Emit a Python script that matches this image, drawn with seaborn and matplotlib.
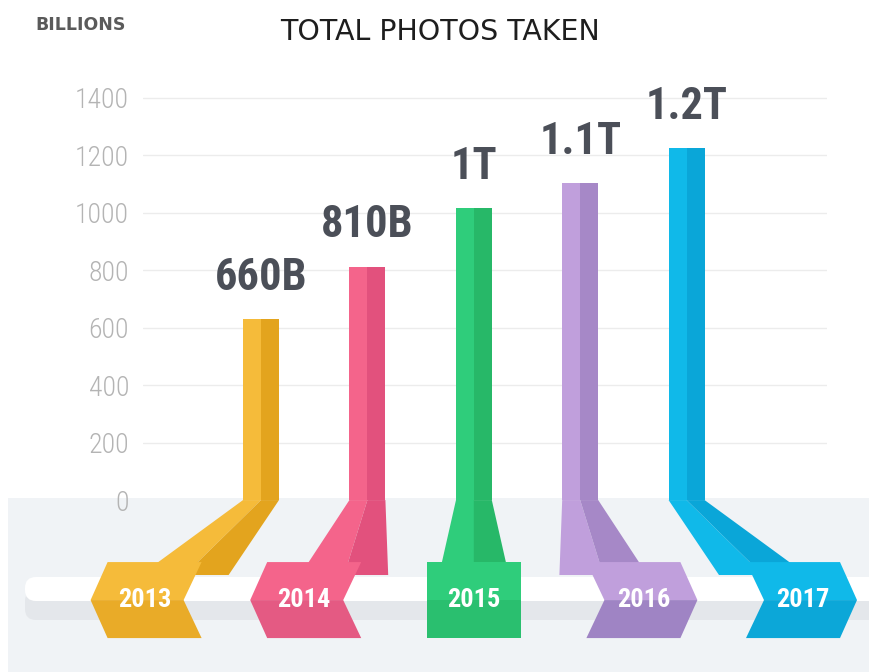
import pandas as pd
import seaborn as sns
import matplotlib.pyplot as plt
from matplotlib import font_manager
from matplotlib.patches import Polygon, Rectangle, FancyBboxPatch

# total photos taken per year, billions
years = ['2013', '2014', '2015', '2016', '2017']
photos = [630, 812, 1016, 1103, 1224]
value_labels = ['660B', '810B', '1T', '1.1T', '1.2T']
y_ticks = [0, 200, 400, 600, 800, 1000, 1200, 1400]

light = ['#f5bb3a', '#f4648b', '#2fcd7b', '#c09fdc', '#10b9e9']
dark = ['#e3a41e', '#e2517d', '#27b868', '#a688c7', '#0aa6d8']
box_low = ['#e9ab28', '#e45a83', '#2abf6f', '#9f84c4', '#0ca7d8']
arrow_dir = [-1, -1, 0, 1, 1]   # year tags: left arrow, box, right arrow

sns.set_theme(style='white')

# pick a narrow face if one is installed
installed = {f.name for f in font_manager.fontManager.ttflist}
narrow = 'DejaVu Sans'
for cand in ['Roboto Condensed', 'Liberation Sans Narrow', 'DejaVu Sans Condensed', 'Roboto']:
    if cand in installed:
        narrow = cand
        break
plt.rcParams['font.family'] = [narrow, 'DejaVu Sans']

fig = plt.figure(figsize=(8.69, 6.72), dpi=100)

# background layer in pixel units: grey floor and the white "road"
bg = fig.add_axes([0, 0, 1, 1], zorder=0)
bg.set_xlim(0, 869)
bg.set_ylim(672, 0)
bg.axis('off')
bg.add_patch(Rectangle((8, 498), 861, 174, color='#f0f3f6', lw=0))
bg.add_patch(FancyBboxPatch((25, 590), 900, 30, boxstyle='round,pad=0,rounding_size=11',
                            color='#e4e7eb', lw=0))
bg.add_patch(FancyBboxPatch((25, 577), 900, 24, boxstyle='round,pad=0,rounding_size=11',
                            color='white', lw=0))

# main chart
X_PX = 106.4     # pixels per category step
Y_PX = 0.2875    # pixels per billion
ax = fig.add_axes([143 / 869, 0, 684 / 869, 0.8976], zorder=1)
ax.patch.set_alpha(0)

df = pd.DataFrame({'year': years, 'photos': photos})
sns.barplot(data=df, x='year', y='photos', hue='year', palette=light, saturation=1,
            width=36 / X_PX, legend=False, ax=ax, zorder=3, linewidth=0)

bars = sorted(ax.patches, key=lambda p: p.get_x())
top, mid_y, bot = -62 / Y_PX, -100 / Y_PX, -138 / Y_PX
hw, tip, notch = 47 / X_PX, 17 / X_PX, 18 / X_PX
n = len(bars)
for i, p in enumerate(bars):
    L = p.get_x()
    w = p.get_width()
    M = L + w / 2
    R = L + w
    h = p.get_height()
    # darker right half of the bar
    ax.add_patch(Rectangle((M, 0), w / 2, h, color=dark[i], lw=0, zorder=4))
    ax.text(M, h + 102, value_labels[i], ha='center', va='baseline', fontsize=32,
            fontweight='bold', color='#4b4f58')

    # year tag position, fanned out under the bars
    c = (n - 1) / 2 + (i - (n - 1) / 2) * 1.5
    d = arrow_dir[i]
    B = c - d * 30 / X_PX
    rw = (35 if d == 0 else 44) / X_PX
    ye = top - 45
    ax.add_patch(Polygon([(L, 0), (M, 0), (B, ye), (B - rw, ye)], closed=True,
                         color=light[i], lw=0, zorder=2, clip_on=False))
    ax.add_patch(Polygon([(M, 0), (R, 0), (B + rw, ye), (B, ye)], closed=True,
                         color=dark[i], lw=0, zorder=2, clip_on=False))

    bl, br = c - hw, c + hw
    if d < 0:
        lm, rm = bl - tip, br - notch
    elif d > 0:
        lm, rm = bl + notch, br + tip
    else:
        lm, rm = bl, br
    ax.add_patch(Polygon([(bl, top), (br, top), (rm, mid_y), (lm, mid_y)], closed=True,
                         color=light[i], lw=0, zorder=5, clip_on=False))
    ax.add_patch(Polygon([(lm, mid_y), (rm, mid_y), (br, bot), (bl, bot)], closed=True,
                         color=box_low[i], lw=0, zorder=5, clip_on=False))
    ax.text(c + d * 10 / X_PX, mid_y, years[i], ha='center', va='center', color='white',
            fontsize=19, fontweight='bold', zorder=6, clip_on=False)

ax.set_xlim(-118 / X_PX, 566 / X_PX)
ax.set_ylim(-598, 1500)
ax.set_yticks(y_ticks)
ax.set_xticks([])
ax.set_xlabel('')
ax.set_ylabel('')
ax.grid(axis='y', color='#ececec', lw=1)
ax.set_axisbelow(True)
ax.yaxis.get_gridlines()[0].set_visible(False)
ax.tick_params(axis='y', length=0, pad=10, labelsize=20, labelcolor='#b4b4b4')
for t in ax.get_yticklabels():
    t.set_fontweight('light')
sns.despine(ax=ax, left=True, bottom=True)

fig.text(35 / 869, 1 - 25 / 672, 'BILLIONS', ha='left', va='center', fontsize=12.5,
         fontweight='bold', color='#5a5a5a', family='DejaVu Sans')
fig.text(440 / 869, 1 - 32 / 672, 'TOTAL PHOTOS TAKEN', ha='center', va='center',
         fontsize=20.5, color='#1e1e1e', family='DejaVu Sans')

fig.savefig('out.png', dpi=100)
